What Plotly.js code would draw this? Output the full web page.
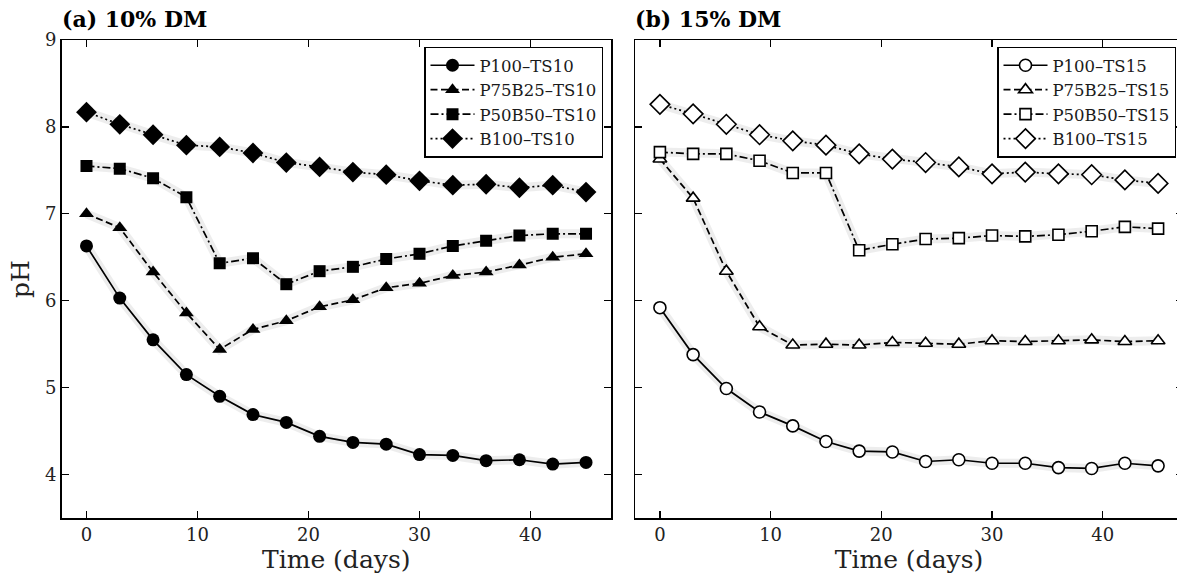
<!DOCTYPE html>
<html>
<head>
<meta charset="utf-8">
<script src="https://cdn.plot.ly/plotly-3.0.1.min.js"></script>
<style>
html,body{margin:0;padding:0;overflow:hidden;background:#fff;}
#chart{width:1185px;height:583px;}
</style>
</head>
<body>
<div id="chart"></div>
<script>
// Time points (days)
const days = [0,3,6,9,12,15,18,21,24,27,30,33,36,39,42,45];

// (a) 10% DM
const P100_TS10   = [6.63,6.03,5.55,5.15,4.90,4.69,4.60,4.44,4.37,4.35,4.23,4.22,4.16,4.17,4.12,4.14];
const P75B25_TS10 = [7.00,6.84,6.33,5.86,5.44,5.67,5.77,5.93,6.01,6.15,6.20,6.29,6.33,6.41,6.50,6.54];
const P50B50_TS10 = [7.55,7.52,7.41,7.19,6.43,6.49,6.19,6.34,6.39,6.48,6.54,6.63,6.69,6.75,6.77,6.77];
const B100_TS10   = [8.17,8.03,7.91,7.79,7.77,7.70,7.59,7.54,7.48,7.45,7.38,7.33,7.34,7.30,7.33,7.25];

// (b) 15% DM
const P100_TS15   = [5.92,5.38,4.99,4.72,4.56,4.38,4.27,4.26,4.15,4.17,4.13,4.13,4.08,4.07,4.13,4.10];
const P75B25_TS15 = [7.63,7.18,6.34,5.70,5.49,5.50,5.49,5.52,5.51,5.50,5.54,5.53,5.54,5.55,5.53,5.54];
const P50B50_TS15 = [7.71,7.69,7.69,7.61,7.47,7.47,6.58,6.65,6.71,6.72,6.75,6.74,6.76,6.80,6.85,6.83];
const B100_TS15   = [8.26,8.15,8.03,7.91,7.84,7.79,7.69,7.63,7.59,7.54,7.46,7.48,7.46,7.45,7.39,7.35];

const namesA = ['P100–TS10','P75B25–TS10','P50B50–TS10','B100–TS10'];
const namesB = ['P100–TS15','P75B25–TS15','P50B50–TS15','B100–TS15'];
const seriesA = [P100_TS10,P75B25_TS10,P50B50_TS10,B100_TS10];
const seriesB = [P100_TS15,P75B25_TS15,P50B50_TS15,B100_TS15];

const dashes = ['solid','7px,3.5px','8px,3px,2px,3px','2px,3px'];
const symbols = ['circle','triangle-up','square','diamond'];
const sizes = [13,13,12,16];

const traces = [];
function addSet(series, names, xa, ya, filled, legend){
  series.forEach((ys,i)=>{
    traces.push({x:days,y:ys,xaxis:xa,yaxis:ya,mode:'lines',showlegend:false,hoverinfo:'skip',
      line:{color:'rgba(190,190,190,0.28)',width:9}});
  });
  series.forEach((ys,i)=>{
    traces.push({x:days,y:ys,xaxis:xa,yaxis:ya,mode:'lines+markers',name:names[i],legend:legend,
      line:{color:'#000',width:1.7,dash:dashes[i]},
      marker:{symbol:symbols[i],size:filled?sizes[i]:sizes[i]-1,color:filled?'#000':'#fff',
        line:{color:'#000',width:filled?0:1.6}}});
  });
}
addSet(seriesA,namesA,'x','y',true,'legend');
addSet(seriesB,namesB,'x2','y2',false,'legend2');

const W=1185,H=583;
const fnt = 'DejaVu Serif, serif';
const axBase = {showline:true,linecolor:'#000',linewidth:1.5,mirror:'ticks',ticks:'inside',ticklen:7,tickwidth:1.3,tickcolor:'#000',
  showgrid:false,zeroline:false,tickfont:{family:fnt,size:18,color:'#222'}};
const xr=[-2.25,47.25], yr=[3.5,9];
const yd=[1-518/H,1-40/H];
const legBase = {yanchor:'top',xanchor:'right',xref:'paper',yref:'paper',bgcolor:'#fff',bordercolor:'#000',borderwidth:1.5,
    font:{family:fnt,size:16.5,color:'#1a1a1a'},tracegroupgap:0,itemwidth:44};

const layout = {
  width:W,height:H,margin:{l:0,r:0,t:0,b:0},paper_bgcolor:'#fff',plot_bgcolor:'#fff',
  font:{family:fnt,color:'#000'},
  xaxis:Object.assign({},axBase,{domain:[61.5/W,611/W],range:xr,tickvals:[0,10,20,30,40],anchor:'y',
    title:{text:'Time (days)',font:{family:fnt,size:25,color:'#222'},standoff:6}}),
  yaxis:Object.assign({},axBase,{domain:yd,range:yr,tickvals:[4,5,6,7,8,9],anchor:'x',
    title:{text:'pH',font:{family:fnt,size:25,color:'#222'},standoff:8}}),
  xaxis2:Object.assign({},axBase,{domain:[635/W,1183/W],range:xr,tickvals:[0,10,20,30,40],anchor:'y2',
    title:{text:'Time (days)',font:{family:fnt,size:25,color:'#222'},standoff:6}}),
  yaxis2:Object.assign({},axBase,{domain:yd,range:yr,tickvals:[4,5,6,7,8,9],anchor:'x2',showticklabels:false}),
  legend:Object.assign({},legBase,{x:603/W,y:1-46.5/H}),
  legend2:Object.assign({},legBase,{x:1176/W,y:1-46.5/H}),
  annotations:[
    {text:'<b>(a) 10% DM</b>',xref:'paper',yref:'paper',x:60/W,y:1-19/H,xanchor:'left',yanchor:'middle',showarrow:false,
      font:{family:fnt,size:22,color:'#000'}},
    {text:'<b>(b) 15% DM</b>',xref:'paper',yref:'paper',x:633/W,y:1-19/H,xanchor:'left',yanchor:'middle',showarrow:false,
      font:{family:fnt,size:22,color:'#000'}}
  ]
};
Plotly.newPlot('chart',traces,layout,{displayModeBar:false,staticPlot:true});
</script>
</body>
</html>
